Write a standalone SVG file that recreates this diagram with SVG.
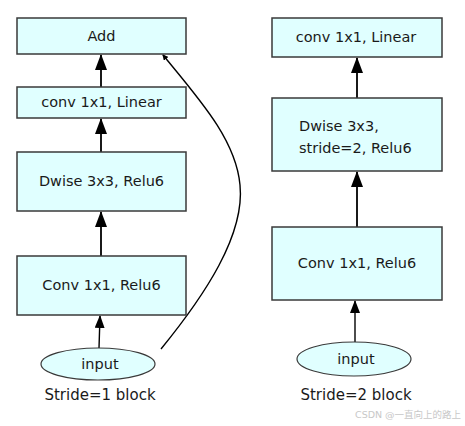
<svg xmlns="http://www.w3.org/2000/svg" width="465" height="426" viewBox="0 0 465 426">
<style>
.box{fill:#e0ffff;stroke:#3a3a3a;stroke-width:1.5}
.ell{fill:#e0ffff;stroke:#3a3a3a;stroke-width:1.2}
.t{font-family:"DejaVu Sans",sans-serif;font-size:14.5px;fill:#1a1a1a;text-anchor:middle}
.tl{font-family:"DejaVu Sans",sans-serif;font-size:14.5px;fill:#1a1a1a}
.cap{font-family:"DejaVu Sans",sans-serif;font-size:15px;fill:#1a1a1a;text-anchor:middle}
.wm{font-family:"DejaVu Sans","Noto Sans CJK SC",sans-serif;font-size:9.5px;fill:#c8c8c8}
.e{stroke:#000;stroke-width:1.8;fill:none}
.es{stroke:#000;stroke-width:1.4;fill:none}
</style>
<defs>
<marker id="ah" viewBox="0 0 16 12" refX="15" refY="6" markerWidth="16" markerHeight="12" markerUnits="userSpaceOnUse" orient="auto">
<path d="M0,0 L16,6 L0,12 Z" fill="#000"/>
</marker>
<marker id="ahs" viewBox="0 0 13 10" refX="12" refY="5" markerWidth="13" markerHeight="10" markerUnits="userSpaceOnUse" orient="auto">
<path d="M0,0 L13,5 L0,10 Z" fill="#000"/>
</marker>
<marker id="aht" viewBox="0 0 6 6" refX="5" refY="3" markerWidth="6" markerHeight="6" markerUnits="userSpaceOnUse" orient="auto">
<path d="M0,0 L6,3 L0,6 Z" fill="#000"/>
</marker>
</defs>
<g id="connectors">
<line class="e" x1="101" y1="87" x2="101" y2="55" marker-end="url(#ah)"/>
<line class="e" x1="101" y1="152" x2="101" y2="119" marker-end="url(#ah)"/>
<line class="e" x1="101" y1="256" x2="101" y2="212" marker-end="url(#ah)"/>
<line class="es" x1="99" y1="348" x2="100" y2="316" marker-end="url(#ahs)"/>
<path class="es" d="M161,349 C205,295 245,235 240,185 C236,140 200,100 163,55" marker-end="url(#aht)"/>
<line class="e" x1="357" y1="98" x2="357" y2="58" marker-end="url(#ah)"/>
<line class="e" x1="357" y1="227" x2="357" y2="172" marker-end="url(#ah)"/>
<line class="es" x1="355" y1="342" x2="355" y2="301" marker-end="url(#ahs)"/>
</g>
<g id="add"><rect class="box" x="17" y="18" width="169" height="36"/><text class="t" x="101.5" y="41">Add</text></g>
<g id="conv_linear_1"><rect class="box" x="17" y="87" width="169" height="31"/><text class="t" x="101.5" y="107">conv 1x1, Linear</text></g>
<g id="dwise_1"><rect class="box" x="17" y="152" width="169" height="59"/><text class="t" x="101.5" y="186">Dwise 3x3, Relu6</text></g>
<g id="conv_relu_1"><rect class="box" x="17" y="256" width="169" height="59"/><text class="t" x="101.5" y="290">Conv 1x1, Relu6</text></g>
<g id="input_1"><ellipse class="ell" cx="98" cy="364" rx="57" ry="16"/><text class="t" x="100" y="369">input</text></g>
<g id="caption_1"><text class="cap" x="100" y="400">Stride=1 block</text></g>
<g id="conv_linear_2"><rect class="box" x="272" y="18" width="170" height="39"/><text class="t" x="356" y="42">conv 1x1, Linear</text></g>
<g id="dwise_2"><rect class="box" x="272" y="98" width="170" height="73"/><text class="tl" x="299" y="131">Dwise 3x3,</text><text class="tl" x="299" y="153">stride=2, Relu6</text></g>
<g id="conv_relu_2"><rect class="box" x="272" y="227" width="170" height="73"/><text class="t" x="357" y="268">Conv 1x1, Relu6</text></g>
<g id="input_2"><ellipse class="ell" cx="354" cy="359" rx="57" ry="17"/><text class="t" x="356" y="364">input</text></g>
<g id="caption_2"><text class="cap" x="356" y="400">Stride=2 block</text></g>
<text class="wm" x="355" y="418">CSDN @一直向上的路上</text>
</svg>
